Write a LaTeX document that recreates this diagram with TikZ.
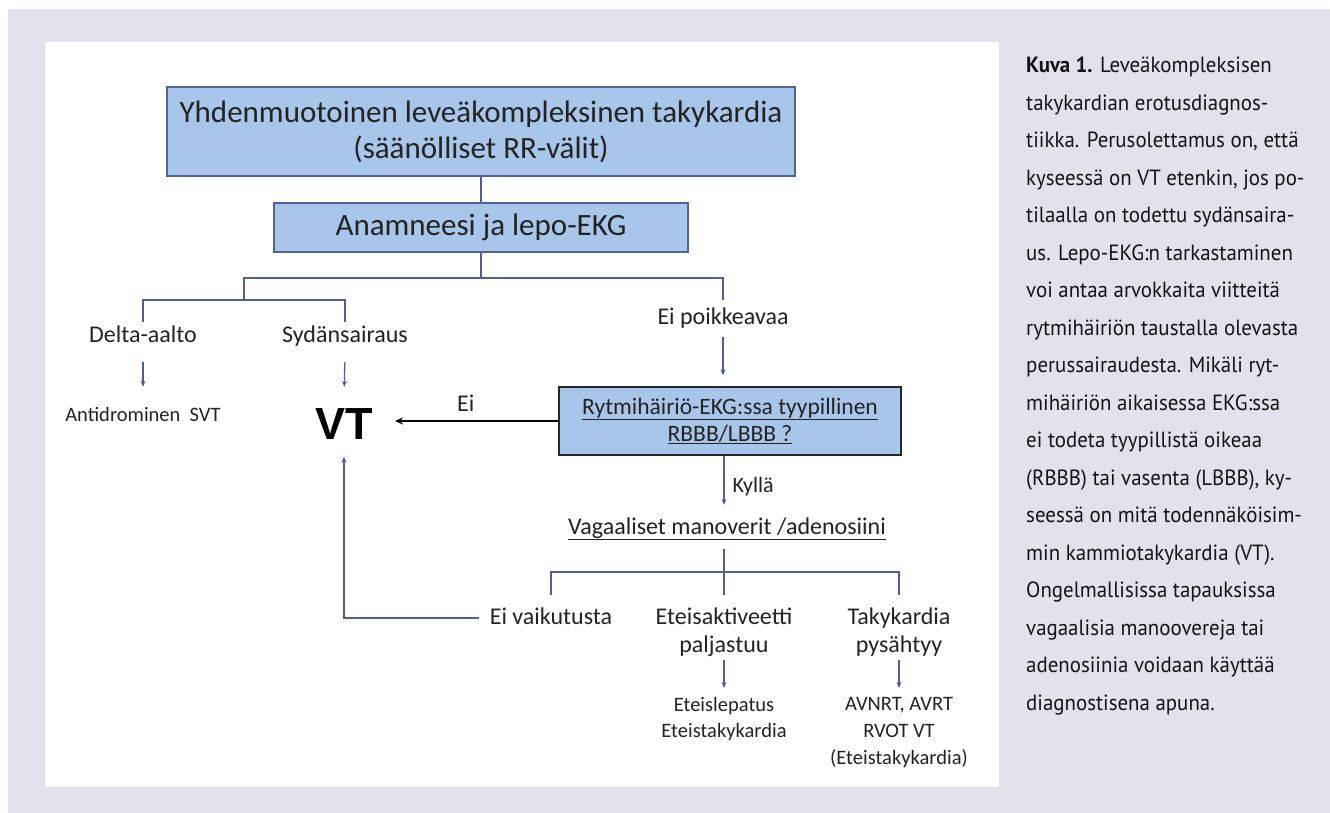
\documentclass[tikz,border=0pt]{standalone}
\usepackage{fontspec}
\setmainfont{Carlito}
\newfontfamily\capfont[FakeStretch=0.95]{PT Sans}
\newfontfamily\vtfont{Liberation Sans}
\usetikzlibrary{arrows.meta}
\definecolor{bggray}{RGB}{227,225,236}
\definecolor{boxblue}{RGB}{168,198,233}
\definecolor{boxedge}{RGB}{84,100,142}
\definecolor{linecol}{RGB}{80,94,145}
\definecolor{txt}{RGB}{35,35,35}
\definecolor{captxt}{RGB}{20,20,20}
\begin{document}
\begin{tikzpicture}[x=1pt,y=-1pt,
  box/.style={draw=boxedge, fill=boxblue, line width=1.3pt, inner sep=0pt, align=center, text=txt},
  lbl/.style={font=\fontsize{24}{28}\selectfont, text=txt, inner sep=0pt, text height=17pt, text depth=5pt, align=center},
  multi/.style={font=\fontsize{24}{28}\selectfont, text=txt, inner sep=0pt, align=center},
  small/.style={font=\fontsize{20.5}{26}\selectfont, text=txt, inner sep=0pt, align=center},
  conn/.style={draw=linecol, line width=1.3pt},
  arr/.style={draw=linecol, line width=1.3pt, -{Stealth[length=6pt,width=5pt]}},
  blackarr/.style={draw=black, line width=1.8pt, -{Stealth[length=8pt,width=7pt]}}
]
\fill[white] (0,0) rectangle (1330,813);
\fill[bggray] (8,9) rectangle (1330,813);
\fill[white] (45,42) rectangle (999,787);
\useasboundingbox (0,0) rectangle (1330,813);

% boxes
\node[box, minimum width=628pt, minimum height=89pt, font=\fontsize{31}{36}\selectfont] (top) at (481,131.5)
  {Yhdenmuotoinen leveäkompleksinen takykardia\\(säänölliset RR-välit)};
\node[box, minimum width=414pt, minimum height=49pt, font=\fontsize{31}{36}\selectfont] (anam) at (481,227.5)
  {Anamneesi ja lepo-EKG};
\node[box, draw=black!85, minimum width=342pt, minimum height=68pt, font=\fontsize{23.5}{27}\selectfont] (rbbb) at (730,421)
  {\underline{Rytmihäiriö-EKG:ssa tyypillinen}\\\underline{RBBB/LBBB ?}};

% labels
\node[lbl] (delta) at (143,336) {Delta-aalto};
\node[lbl] (syd) at (345,336) {Sydänsairaus};
\node[lbl] (pk) at (723,318) {Ei poikkeavaa};
\node[small, text height=15pt, text depth=4pt] (svt) at (143,416) {Antidrominen\ \ SVT};
\node[inner sep=0pt, text height=33pt, text depth=0pt, font=\vtfont\bfseries\fontsize{45}{50}\selectfont, text=black] (vt) at (344,423) {VT};
\node[lbl] (vag) at (727,528) {\underline{Vagaaliset manoverit /adenosiini}};
\node[lbl] (eiv) at (551,618) {Ei vaikutusta};
\node[multi] (ete) at (724,632) {Eteisaktiveetti\\paljastuu};
\node[multi] (tak) at (899,632) {Takykardia\\pysähtyy};
\node[small] (etl) at (724,719) {Eteislepatus\\Eteistakykardia};
\node[small, font=\fontsize{20.5}{27}\selectfont] (avn) at (899,733) {AVNRT, AVRT\\RVOT VT\\(Eteistakykardia)};

% helper coordinates
\coordinate (jL) at (244,278);
\coordinate (jR) at (723,278);
\coordinate (jL2) at (244,300);
\coordinate (jS) at (724,572);
\coordinate (bEnd) at (724,595);
\coordinate (aT) at (724,660);
\coordinate (aB) at (724,688);

% tree connectors
\draw[conn] (top.south) -- (top.south |- anam.north);
\draw[conn] (anam.south) -- (anam.south |- jL);
\draw[conn] (jL2) -- (jL) -- (jR) -- ([yshift=7pt]pk.north);
\draw[conn] ([yshift=3pt]delta.north) |- (jL2) -| ([yshift=3pt]syd.north);

% arrows
\draw[arr, shorten <=15pt, shorten >=19.5pt] (delta.south) -- (svt.north);
\draw[arr, shorten <=15pt, shorten >=19.5pt] (syd.south) -- (vt.north);
\draw[arr, shorten <=8pt, shorten >=11pt] (pk.south) -- (pk.south |- rbbb.north);
\draw[blackarr, shorten >=22pt] (rbbb.west) -- (rbbb.west -| vt.east) node[midway, above=4pt, lbl] (ei1) {Ei};
\draw[arr, shorten >=12pt] ([xshift=-6pt]rbbb.south) -- ([xshift=-6pt]rbbb.south |- vag.north) node[midway, right=8pt, lbl, font=\fontsize{22}{26}\selectfont] (kyl) {Kyllä};
\draw[conn, shorten <=10pt] (vag.south -| jS) -- (jS);
\draw[conn] (eiv.north |- bEnd) |- (jS) -| (tak.north |- bEnd);
\draw[conn] (jS) -- (bEnd);
\draw[arr, shorten >=17pt] ([xshift=-11pt]eiv.west) -| (vt.south);
\draw[arr] (ete.south |- aT) -- (ete.south |- aB);
\draw[arr] (tak.south |- aT) -- (tak.south |- aB);

% caption
\node[anchor=north west, align=left, inner sep=0pt, text=captxt, font=\capfont\fontsize{22}{37.5}\selectfont] (cap) at (1026,57)
{\textbf{Kuva 1.} Leveäkompleksisen\\
takykardian erotusdiagnos-\\
tiikka. Perusolettamus on, että\\
kyseessä on VT etenkin, jos po-\\
tilaalla on todettu sydänsaira-\\
us. Lepo-EKG:n tarkastaminen\\
voi antaa arvokkaita viitteitä\\
rytmihäiriön taustalla olevasta\\
perussairaudesta. Mikäli ryt-\\
mihäiriön aikaisessa EKG:ssa\\
ei todeta tyypillistä oikeaa\\
(RBBB) tai vasenta (LBBB), ky-\\
seessä on mitä todennäköisim-\\
min kammiotakykardia (VT).\\
Ongelmallisissa tapauksissa\\
vagaalisia manoovereja tai\\
adenosiinia voidaan käyttää\\
diagnostisena apuna.};
\end{tikzpicture}
\end{document}
